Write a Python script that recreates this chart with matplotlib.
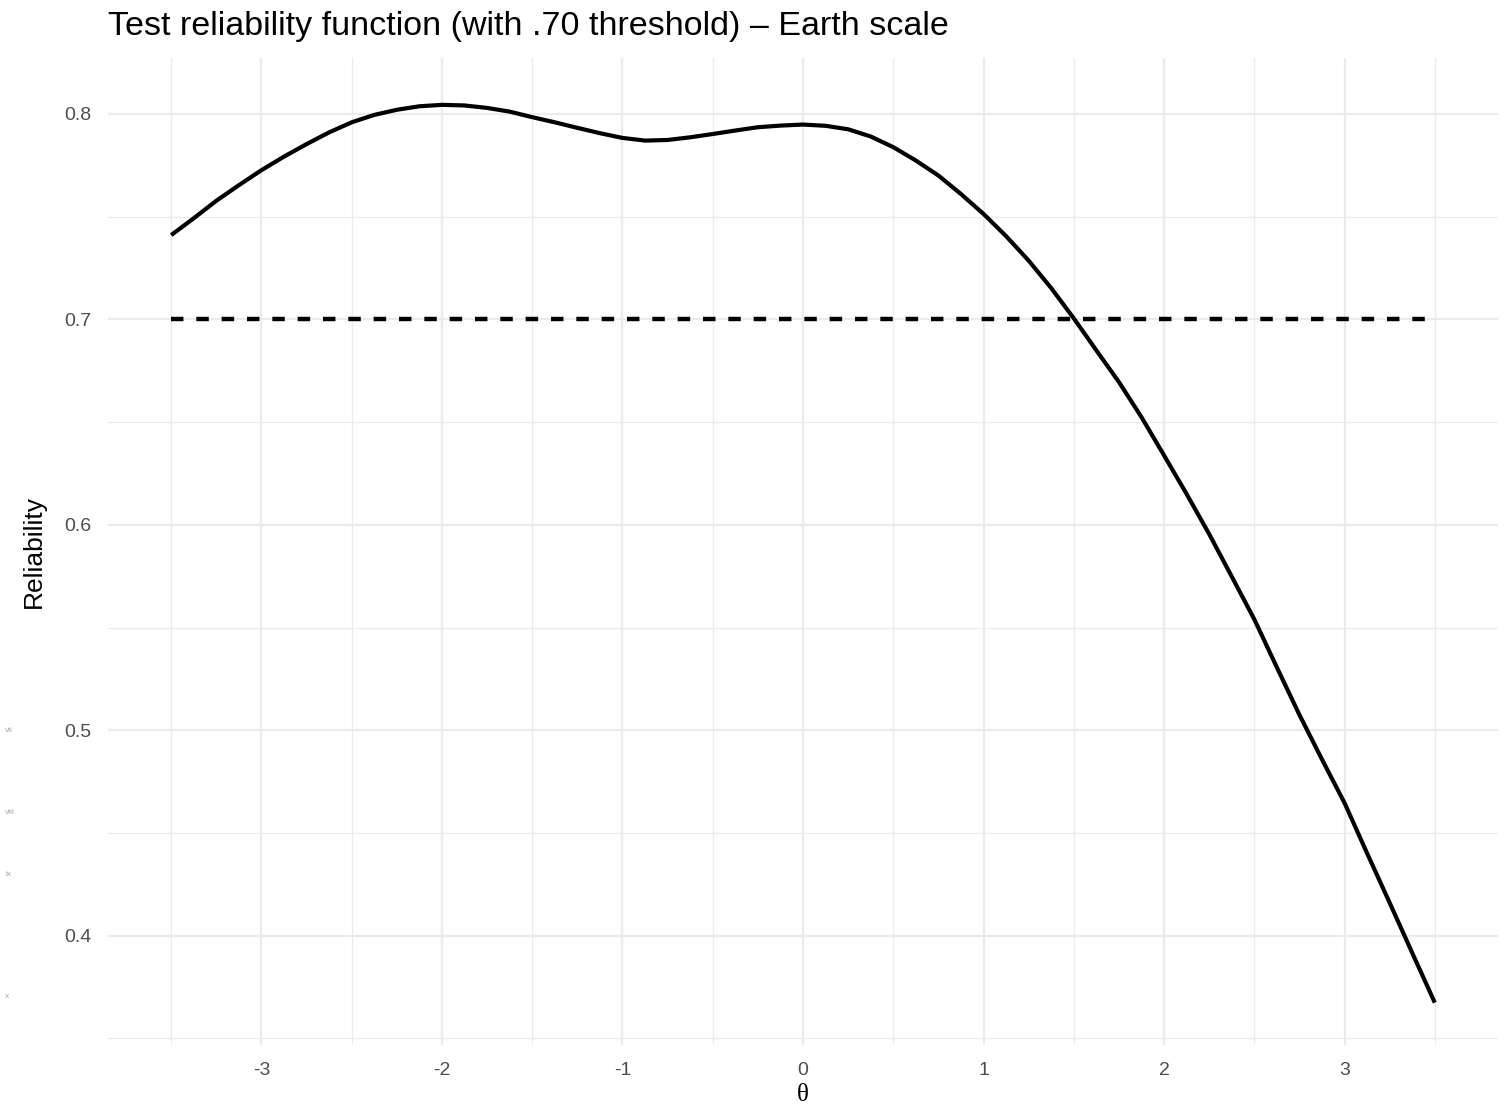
import matplotlib
matplotlib.use("Agg")
import matplotlib.pyplot as plt
import numpy as np

# values (every 0.125 on theta)
theta = [-3.5, -3.375, -3.25, -3.125, -3.0, -2.875, -2.75, -2.625, -2.5, -2.375, -2.25, -2.125,
         -2.0, -1.875, -1.75, -1.625, -1.5, -1.375, -1.25, -1.125, -1.0, -0.875, -0.75, -0.625,
         -0.5, -0.375, -0.25, -0.125, 0.0, 0.125, 0.25, 0.375, 0.5, 0.625, 0.75, 0.875,
         1.0, 1.125, 1.25, 1.375, 1.5, 1.625, 1.75, 1.875, 2.0, 2.125, 2.25, 2.375,
         2.5, 2.625, 2.75, 2.875, 3.0, 3.125, 3.25, 3.375, 3.5]
reliability = [0.7410, 0.7492, 0.7577, 0.7653, 0.7726, 0.7792, 0.7853, 0.7910, 0.7959, 0.7995,
               0.8020, 0.8037, 0.8044, 0.8041, 0.8029, 0.8011, 0.7984, 0.7959, 0.7932, 0.7906,
               0.7883, 0.7870, 0.7873, 0.7886, 0.7902, 0.7919, 0.7935, 0.7943, 0.7948, 0.7942,
               0.7925, 0.7890, 0.7838, 0.7773, 0.7700, 0.7610, 0.7513, 0.7405, 0.7286, 0.7152,
               0.7005, 0.6849, 0.6695, 0.6524, 0.6338, 0.6150, 0.5955, 0.5748, 0.5540, 0.5306,
               0.5075, 0.4858, 0.4646, 0.4401, 0.4160, 0.3916, 0.3674]
threshold = 0.70
x_ticks = [-3, -2, -1, 0, 1, 2, 3]
y_ticks = [0.4, 0.5, 0.6, 0.7, 0.8]
margin_notes = ["vii", "viii", "ix", "x"]
margin_note_y = [730, 812, 875, 997]  # pixel rows in the reference

plt.rcParams['font.family'] = ['Liberation Sans', 'DejaVu Sans']

fig = plt.figure(figsize=(15.05, 11.07), dpi=100)
ax = fig.add_axes([108 / 1505, 1 - 1045 / 1107, (1498 - 108) / 1505, (1045 - 58) / 1107])

# theme_minimal style grid
grid_col = '#EBEBEB'
for v in x_ticks:
    ax.axvline(v, color=grid_col, lw=1.6, zorder=0)
for v in np.arange(-3.5, 3.6, 1.0):
    ax.axvline(v, color=grid_col, lw=0.9, zorder=0)
for v in y_ticks:
    ax.axhline(v, color=grid_col, lw=1.6, zorder=0)
for v in np.arange(0.35, 0.80, 0.1):
    ax.axhline(v, color=grid_col, lw=0.9, zorder=0)

ax.plot(theta, reliability, color='black', lw=3.0, solid_capstyle='butt',
        solid_joinstyle='round', zorder=3)
ax.plot([theta[0], theta[-1]], [threshold, threshold], color='black', lw=3.2,
        linestyle=(0, (2.8, 2.9)), zorder=2)

ax.set_xlim(-3.85, 3.85)
ax.set_ylim(0.3468, 0.8272)
ax.set_xticks(x_ticks)
ax.set_xticklabels([str(t) for t in x_ticks])
ax.set_yticks(y_ticks)
ax.set_yticklabels([f"{t:.1f}" for t in y_ticks])
ax.tick_params(length=0, labelsize=14, colors='#4D4D4D', pad=12)
for s in ax.spines.values():
    s.set_visible(False)

ax.set_ylabel("Reliability", fontsize=19, color='black', labelpad=13)
ax.set_xlabel("θ", fontsize=18, family=['Liberation Serif', 'DejaVu Serif'], labelpad=4)

fig.text(108 / 1505, 1 - 27 / 1107, "Test reliability function (with .70 threshold) – Earth scale",
         fontsize=24.5, ha='left', va='center')

for note, py in zip(margin_notes, margin_note_y):
    fig.text(5 / 1505, 1 - py / 1107, note, fontsize=6, color='#AAAAAA', ha='left', va='center')

fig.savefig("out.png", dpi=100, facecolor='white')
